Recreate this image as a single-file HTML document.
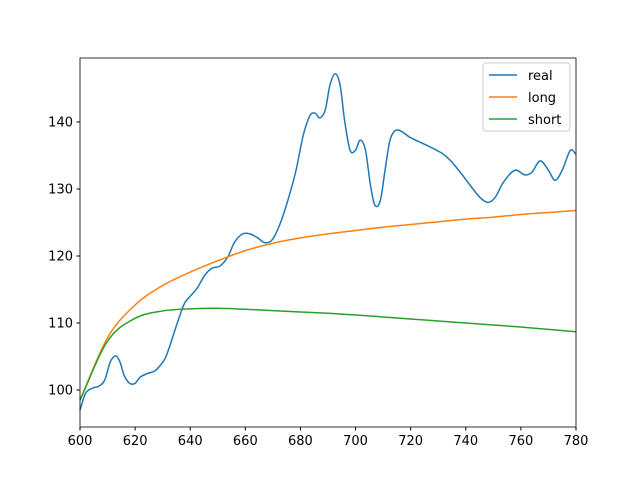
<!DOCTYPE html>
<html><head><meta charset="utf-8"><style>
body{margin:0;background:#fff}
svg{display:block;font-family:"DejaVu Sans","Liberation Sans",sans-serif}
</style></head><body>
<svg width="640" height="480">
<rect x="0" y="0" width="640" height="480" fill="#fff"/>
<g id="plot"></g>
<rect x="80" y="58" width="496" height="369" fill="none" stroke="#000" stroke-width="0.8"/>
<g id="ticks"></g>
<g>
<rect x="483" y="63" width="87" height="68" rx="3" fill="#fff" fill-opacity="0.8" stroke="#ccc"/>
<line x1="489" y1="75" x2="517" y2="75" stroke="#1f77b4" stroke-width="1.5"/>
<text x="528" y="80" font-size="13">real</text>
<line x1="489" y1="97" x2="517" y2="97" stroke="#ff7f0e" stroke-width="1.5"/>
<text x="528" y="102" font-size="13">long</text>
<line x1="489" y1="119" x2="517" y2="119" stroke="#2ca02c" stroke-width="1.5"/>
<text x="528" y="124" font-size="13">short</text>
</g>
</svg>
<script>
const realX=[600,602,604.7,607,609,611,613,614.5,616,618,620,621.8,624.7,627,629,631,632.7,634.5,636.3,638,640,642.5,645.4,648,650.8,653.7,656,659,661.7,664.5,667,669.7,672.6,675.5,678.4,681,683.5,685.4,687,689,690.7,692.6,694.4,696,698,700,701.7,703.6,705.4,707,709,710.7,712.5,715,719.8,730.7,734.3,738,741.5,745,748,750.6,753.5,757.8,761.5,764,767,770,772.4,775,778,780];
const realY=[97,99.5,100.3,100.6,101.5,104.2,105.1,104.2,102.2,101,101,101.9,102.5,102.8,103.6,104.8,106.7,109,111.2,113,114,115.2,117.2,118.2,118.5,119.9,122,123.3,123.3,122.7,122,122.4,124.8,128.4,132.8,138,141,141.3,140.6,141.8,145.5,147.2,145.5,140.3,135.8,135.8,137.3,135.8,130.6,127.6,128.3,132.8,137.3,138.8,137.7,135.5,134.3,132.5,130.6,128.8,128,128.7,130.9,132.8,132.1,132.5,134.2,132.8,131.3,132.8,135.8,135.2];
const longX=[600,610,620,630,640,650,660,670,680,690,700,710,720,730,740,750,760,770,780];
const longY=[98.5,107.8,112.7,115.6,117.6,119.3,120.8,121.9,122.7,123.3,123.8,124.3,124.7,125.1,125.5,125.8,126.2,126.5,126.8];
const shortX=[600,610,620,630,640,650,660,670,680,690,700,710,720,730,740,750,760,770,780];
const shortY=[98.5,107.3,110.7,111.8,112.1,112.2,112.05,111.85,111.65,111.45,111.2,110.9,110.6,110.3,110,109.7,109.4,109.05,108.7];
const xTicks=[600,620,640,660,680,700,720,740,760,780];
const yTicks=[100,110,120,130,140];
const NS="http://www.w3.org/2000/svg";
const sx=v=>80+(v-600)*496/180;
const sy=v=>390-(v-100)*6.7;
function path(xs,ys){
  const p=xs.map((x,i)=>[sx(x),sy(ys[i])]);
  const n=p.length,m=[];
  for(let i=0;i<n;i++){
    const a=p[Math.max(i-1,0)],b=p[Math.min(i+1,n-1)];
    m.push((b[1]-a[1])/(b[0]-a[0]));
  }
  let d="M"+p[0][0]+","+p[0][1];
  for(let i=0;i<n-1;i++){
    const h=(p[i+1][0]-p[i][0])/3;
    d+=` C${p[i][0]+h},${p[i][1]+m[i]*h} ${p[i+1][0]-h},${p[i+1][1]-m[i+1]*h} ${p[i+1][0]},${p[i+1][1]}`;
  }
  return d;
}
const plot=document.getElementById('plot');
[[realX,realY,'#1f77b4','real-line'],[longX,longY,'#ff7f0e','long-line'],[shortX,shortY,'#2ca02c','short-line']].forEach(s=>{
  const e=document.createElementNS(NS,'path');
  e.setAttribute('d',path(s[0],s[1]));
  e.setAttribute('fill','none');e.setAttribute('stroke',s[2]);e.setAttribute('stroke-width','1.5');
  
  
  plot.appendChild(e);
});
const t=document.getElementById('ticks');
xTicks.forEach(v=>{
  const l=document.createElementNS(NS,'line');
  l.setAttribute('x1',sx(v));l.setAttribute('x2',sx(v));l.setAttribute('y1',427);l.setAttribute('y2',430.5);l.setAttribute('stroke','#000');
  
  
  t.appendChild(l);
  const tx=document.createElementNS(NS,'text');
  tx.setAttribute('x',sx(v));tx.setAttribute('y',445);tx.setAttribute('font-size','13');tx.setAttribute('text-anchor','middle');
  tx.textContent=v;
  
  
  t.appendChild(tx);
});
yTicks.forEach(v=>{
  const l=document.createElementNS(NS,'line');
  l.setAttribute('x1',76.5);l.setAttribute('x2',80);l.setAttribute('y1',sy(v));l.setAttribute('y2',sy(v));l.setAttribute('stroke','#000');
  
  
  t.appendChild(l);
  const tx=document.createElementNS(NS,'text');
  tx.setAttribute('x',73);tx.setAttribute('y',sy(v)+4.5);tx.setAttribute('font-size','13');tx.setAttribute('text-anchor','end');
  tx.textContent=v;
  
  
  t.appendChild(tx);
});
</script>
</body></html>
